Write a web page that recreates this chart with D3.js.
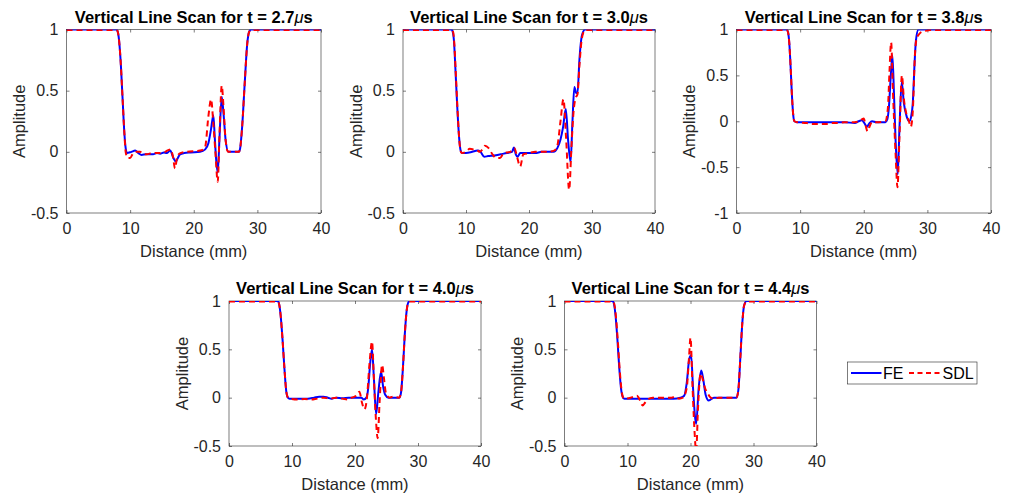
<!DOCTYPE html>
<html>
<head>
<meta charset="utf-8">
<script src="https://cdn.jsdelivr.net/npm/d3@7"></script>
<style>
  html, body { margin: 0; padding: 0; background: #fff; }
  svg { display: block; font-family: "Liberation Sans", Arial, sans-serif; }
</style>
</head>
<body>
<svg id="chart" width="1011" height="495"></svg>
<script>
// ---------- data ----------
const xTickValues = [0, 10, 20, 30, 40];
const yTicksHalf = [-0.5, 0, 0.5, 1];
const yTicksOne = [-1, -0.5, 0, 0.5, 1];
const timeLabels = ["2.7", "3.0", "3.8", "4.0", "4.4"];
const seriesNames = ["FE", "SDL"];

const fe27 = [[0,1],[7.8,1],[8.0,0.99],[8.2,0.94],[8.5,0.75],[8.8,0.45],[9.1,0.15],[9.3,0.03],[9.5,-0.01],[10.2,0.0],[10.8,0.01],[11.3,-0.01],[11.8,-0.025],[12.5,-0.02],[13.6,-0.02],[14.2,-0.01],[14.7,-0.015],[15.3,-0.005],[15.75,-0.01],[16.3,0.01],[16.8,-0.05],[17.2,-0.08],[17.5,-0.05],[17.85,-0.02],[18.5,-0.01],[19.5,-0.005],[21,0.0],[21.8,0.02],[22.3,0.07],[22.7,0.18],[23.08,0.3],[23.3,0.12],[23.5,-0.05],[23.77,-0.17],[24.05,0.12],[24.4,0.45],[24.7,0.3],[25.0,0.1],[25.45,0.0],[26,0.0],[27.1,0.0],[27.3,0.03],[27.6,0.2],[28.0,0.55],[28.4,0.88],[28.7,0.98],[29.0,1],[40,1]];
const sdl27 = [[0,0.995],[7.8,0.995],[8.0,0.99],[8.2,0.94],[8.5,0.75],[8.8,0.45],[9.1,0.15],[9.3,0.0],[9.6,-0.05],[10.0,-0.05],[10.5,-0.01],[11.0,0.0],[11.56,0.0],[12.1,-0.02],[12.6,-0.02],[13.5,-0.01],[14.5,-0.01],[15.5,0.0],[16.3,0.02],[16.7,-0.03],[17.06,-0.135],[17.4,-0.04],[17.9,-0.01],[18.8,0.0],[21,0.01],[21.5,0.02],[21.8,0.04],[22.3,0.29],[22.72,0.43],[23.08,0.23],[23.4,0.0],[23.77,-0.245],[24.05,0.15],[24.4,0.54],[24.7,0.35],[25.0,0.1],[25.4,0.0],[26,0.0],[27.1,0.0],[27.3,0.03],[27.6,0.2],[28.0,0.55],[28.4,0.88],[28.7,0.98],[29.0,0.995],[40,0.995]];

const fe30 = [[0,1],[7.7,1],[7.9,0.98],[8.1,0.9],[8.3,0.7],[8.6,0.38],[8.9,0.12],[9.15,0.01],[9.4,-0.01],[10,-0.01],[11,0.0],[11.8,0.01],[12.3,0.0],[12.9,-0.04],[13.5,-0.035],[14.5,-0.03],[15.5,-0.02],[16.5,-0.01],[17.3,0.0],[17.6,0.035],[17.9,-0.02],[18.2,-0.04],[18.6,-0.01],[19.5,-0.01],[21,-0.01],[22,0.0],[23.9,0.0],[24.5,0.03],[25.0,0.1],[25.4,0.2],[25.84,0.35],[26.2,0.1],[26.6,-0.085],[26.9,0.25],[27.2,0.53],[27.5,0.48],[27.7,0.48],[28.0,0.75],[28.4,0.95],[28.9,1],[40,1]];
const sdl30 = [[0,0.995],[7.7,0.995],[7.95,0.98],[8.15,0.88],[8.4,0.62],[8.7,0.3],[9.0,0.06],[9.3,-0.01],[10,0.0],[10.6,0.025],[11.2,0.02],[11.7,0.015],[12.2,0.0],[12.6,0.02],[13.0,0.05],[13.6,0.03],[14.2,-0.02],[14.8,-0.05],[15.4,-0.05],[16,-0.01],[17,0.0],[17.7,0.03],[18.1,-0.04],[18.6,-0.12],[19.1,-0.02],[20,-0.01],[21,0.0],[23,0.0],[24,0.01],[24.5,0.05],[25.0,0.25],[25.47,0.43],[25.9,0.1],[26.37,-0.31],[26.75,0.05],[27.06,0.32],[27.4,0.44],[27.7,0.47],[28.0,0.7],[28.4,0.93],[28.9,0.995],[40,0.995]];

const fe38 = [[0,1],[7.9,1],[8.1,0.97],[8.3,0.85],[8.5,0.6],[8.7,0.3],[8.9,0.08],[9.1,0.0],[9.5,-0.01],[12,-0.01],[15,-0.01],[17,-0.01],[18.6,-0.02],[19.2,0.0],[19.7,0.01],[20.1,-0.02],[20.5,-0.06],[20.9,-0.02],[21.3,0.0],[22,-0.01],[23.4,-0.01],[23.7,0.02],[23.95,0.15],[24.25,0.5],[24.5,0.72],[24.75,0.3],[25.0,-0.2],[25.34,-0.58],[25.6,-0.1],[25.97,0.43],[26.3,0.2],[26.75,0.05],[27.17,0.0],[27.45,0.05],[27.7,0.19],[28.0,0.65],[28.2,0.88],[28.6,1],[40,1]];
const sdl38 = [[0,0.995],[7.9,0.995],[8.1,0.97],[8.3,0.85],[8.5,0.6],[8.7,0.3],[8.9,0.08],[9.1,0.0],[9.5,-0.01],[11,-0.02],[12,-0.03],[13,-0.03],[14,-0.03],[15,-0.02],[16,-0.02],[17,-0.01],[18.5,-0.01],[19.3,0.0],[19.7,0.02],[20.0,0.03],[20.3,-0.05],[20.6,-0.11],[20.9,-0.06],[21.3,-0.01],[22,-0.01],[23.4,0.0],[23.8,0.15],[24.05,0.55],[24.3,0.86],[24.6,0.3],[25.0,-0.35],[25.3,-0.72],[25.6,-0.2],[26.0,0.5],[26.3,0.25],[26.7,0.08],[27.1,0.0],[27.4,-0.06],[27.7,0.1],[28.06,0.74],[28.3,0.9],[28.6,0.94],[29.0,0.97],[29.7,0.985],[30.4,0.995],[40,0.995]];

const fe40 = [[0,1],[7.75,1],[7.95,0.97],[8.2,0.85],[8.5,0.6],[8.8,0.3],[9.1,0.06],[9.35,0.0],[9.6,-0.01],[11,-0.01],[12.5,-0.01],[13.5,0.0],[14.3,0.01],[15,0.01],[15.7,0.0],[16.3,-0.01],[17,0.0],[18,-0.005],[19,0.0],[21.0,0.0],[21.4,-0.02],[21.8,0.0],[22.1,0.1],[22.4,0.35],[22.7,0.5],[23.0,0.2],[23.35,-0.17],[23.7,0.05],[24.14,0.27],[24.45,0.12],[24.8,0.03],[25.3,0.0],[26,0.0],[27.05,0.0],[27.3,0.05],[27.6,0.3],[27.9,0.65],[28.2,0.9],[28.5,0.99],[28.7,1],[40,1]];
const sdl40 = [[0,0.995],[7.75,0.995],[7.95,0.97],[8.2,0.85],[8.5,0.6],[8.8,0.3],[9.1,0.06],[9.35,0.0],[9.6,-0.01],[11,-0.02],[12,-0.015],[13,-0.02],[14,-0.01],[15,0.0],[16,-0.01],[17,0.0],[18,-0.01],[18.9,-0.02],[19.5,0.0],[20.2,0.02],[20.7,0.06],[21.1,-0.05],[21.5,-0.12],[21.9,0.0],[22.3,0.35],[22.7,0.58],[23.0,0.2],[23.3,-0.2],[23.6,-0.42],[23.9,-0.05],[24.3,0.34],[24.6,0.2],[24.9,0.05],[25.5,0.0],[26,0.01],[27.0,0.0],[27.3,0.05],[27.6,0.3],[27.9,0.65],[28.2,0.9],[28.5,0.99],[28.7,0.995],[40,0.995]];

const fe44 = [[0,1],[7.65,1],[7.85,0.97],[8.1,0.85],[8.4,0.6],[8.7,0.3],[9.0,0.08],[9.3,0.0],[9.5,-0.01],[12,-0.01],[15,-0.01],[17.3,-0.01],[18.4,0.0],[19.0,0.02],[19.4,0.15],[19.8,0.4],[20.1,0.44],[20.4,0.1],[20.9,-0.27],[21.3,0.1],[21.7,0.28],[22.0,0.2],[22.4,0.03],[22.9,-0.03],[23.7,0.0],[24.5,0.0],[27.3,0.0],[27.6,0.08],[27.9,0.4],[28.2,0.75],[28.5,0.95],[28.9,1],[40,1]];
const sdl44 = [[0,0.995],[7.7,0.995],[7.9,0.97],[8.15,0.85],[8.45,0.6],[8.75,0.3],[9.05,0.08],[9.3,0.0],[9.5,-0.01],[10.5,0.0],[11.5,0.02],[12.0,-0.03],[12.4,-0.08],[12.8,-0.05],[13.2,-0.02],[14,0.0],[16,0.0],[17,0.0],[17.6,0.01],[18.2,-0.01],[18.8,0.0],[19.4,0.1],[19.75,0.4],[20.0,0.62],[20.3,0.15],[20.6,-0.3],[20.9,-0.55],[21.2,-0.1],[21.6,0.25],[21.9,0.2],[22.3,0.1],[22.7,0.05],[23.2,0.0],[23.7,-0.01],[24.5,0.0],[27.3,0.0],[27.6,0.08],[27.9,0.4],[28.2,0.75],[28.5,0.95],[28.9,0.995],[40,0.995]];

const panelFE = [fe27, fe30, fe38, fe40, fe44];
const panelSDL = [sdl27, sdl30, sdl38, sdl40, sdl44];
const panelYTicks = [yTicksHalf, yTicksHalf, yTicksOne, yTicksHalf, yTicksHalf];

// ---------- layout ----------
const layout = [
  {l: 66.5, r: 321, t: 29.5, b: 213},
  {l: 403, r: 655, t: 29.5, b: 213},
  {l: 736.5, r: 991, t: 29.5, b: 213},
  {l: 229, r: 481, t: 301, b: 446},
  {l: 564.5, r: 816.5, t: 301, b: 446}
];
const axisColor = "#262626";
const feColor = "#0000ff";
const sdlColor = "#ff0000";

const svg = d3.select("#chart");

layout.forEach((p, i) => {
  const yt = panelYTicks[i];
  const x = d3.scaleLinear().domain([0, 40]).range([p.l, p.r]);
  const y = d3.scaleLinear().domain([d3.min(yt), d3.max(yt)]).range([p.b, p.t]);
  const g = svg.append("g");

  const clipId = "clip" + i;
  svg.append("clipPath").attr("id", clipId)
    .append("rect").attr("x", p.l).attr("y", p.t).attr("width", p.r - p.l).attr("height", p.b - p.t);

  // axes with inward ticks
  const fmt = d => String(d);
  g.append("g").attr("transform", `translate(0,${p.b})`)
    .call(d3.axisBottom(x).tickValues(xTickValues).tickFormat(fmt).tickSizeInner(-3).tickSizeOuter(0).tickPadding(10))
    .call(s => s.select(".domain").remove());
  g.append("g").attr("transform", `translate(0,${p.t})`)
    .call(d3.axisTop(x).tickValues(xTickValues).tickFormat("").tickSizeInner(-3).tickSizeOuter(0))
    .call(s => s.select(".domain").remove());
  g.append("g").attr("transform", `translate(${p.l},0)`)
    .call(d3.axisLeft(y).tickValues(yt).tickFormat(fmt).tickSizeInner(-3).tickSizeOuter(0).tickPadding(8))
    .call(s => s.select(".domain").remove());
  g.append("g").attr("transform", `translate(${p.r},0)`)
    .call(d3.axisRight(y).tickValues(yt).tickFormat("").tickSizeInner(-3).tickSizeOuter(0))
    .call(s => s.select(".domain").remove());

  g.selectAll(".tick line").attr("stroke", axisColor).attr("stroke-width", 0.6);
  g.selectAll(".tick text").attr("fill", axisColor).attr("font-size", 16)
    .attr("font-family", "'Liberation Sans', Arial, sans-serif");

  g.append("rect").attr("x", p.l).attr("y", p.t).attr("width", p.r - p.l).attr("height", p.b - p.t)
    .attr("fill", "none").attr("stroke", axisColor).attr("stroke-width", 0.6);

  // lines
  const line = d3.line().x(d => x(d[0])).y(d => y(d[1])).curve(d3.curveMonotoneX);
  const lg = g.append("g").attr("clip-path", `url(#${clipId})`);
  lg.append("path").datum(panelFE[i]).attr("d", line)
    .attr("fill", "none").attr("stroke", feColor).attr("stroke-width", 2).attr("stroke-linejoin", "round");
  lg.append("path").datum(panelSDL[i]).attr("d", line)
    .attr("fill", "none").attr("stroke", sdlColor).attr("stroke-width", 2).attr("stroke-dasharray", "6,4");

  // labels
  const cx = (p.l + p.r) / 2;
  g.append("text").attr("x", cx).attr("y", p.b + 43.5).attr("text-anchor", "middle")
    .attr("font-size", 16.5).attr("fill", axisColor).text("Distance (mm)");
  g.append("text").attr("transform", `translate(${p.l - 41.5},${(p.t + p.b) / 2}) rotate(-90)`)
    .attr("text-anchor", "middle").attr("font-size", 16.5).attr("fill", axisColor).text("Amplitude");
  const title = g.append("text").attr("x", cx).attr("y", p.t - 7).attr("text-anchor", "middle")
    .attr("font-size", 16.5).attr("font-weight", "bold").attr("fill", "#000");
  title.append("tspan").text("Vertical Line Scan for t = " + timeLabels[i]);
  title.append("tspan").attr("font-style", "italic").attr("font-weight", "normal").text("\u03bc");
  title.append("tspan").text("s");
});

// legend
const lgd = svg.append("g");
lgd.append("rect").attr("x", 847.5).attr("y", 362).attr("width", 129.5).attr("height", 22)
  .attr("fill", "#fff").attr("stroke", axisColor).attr("stroke-width", 0.6);
lgd.append("line").attr("x1", 851).attr("x2", 881.5).attr("y1", 373).attr("y2", 373)
  .attr("stroke", feColor).attr("stroke-width", 2);
lgd.append("text").attr("x", 883).attr("y", 378.5).attr("font-size", 16).attr("fill", "#000").text(seriesNames[0]);
lgd.append("line").attr("x1", 909).attr("x2", 941).attr("y1", 373).attr("y2", 373)
  .attr("stroke", sdlColor).attr("stroke-width", 2).attr("stroke-dasharray", "5,3.5");
lgd.append("text").attr("x", 942.5).attr("y", 378.5).attr("font-size", 16).attr("fill", "#000").text(seriesNames[1]);
</script>
</body>
</html>
